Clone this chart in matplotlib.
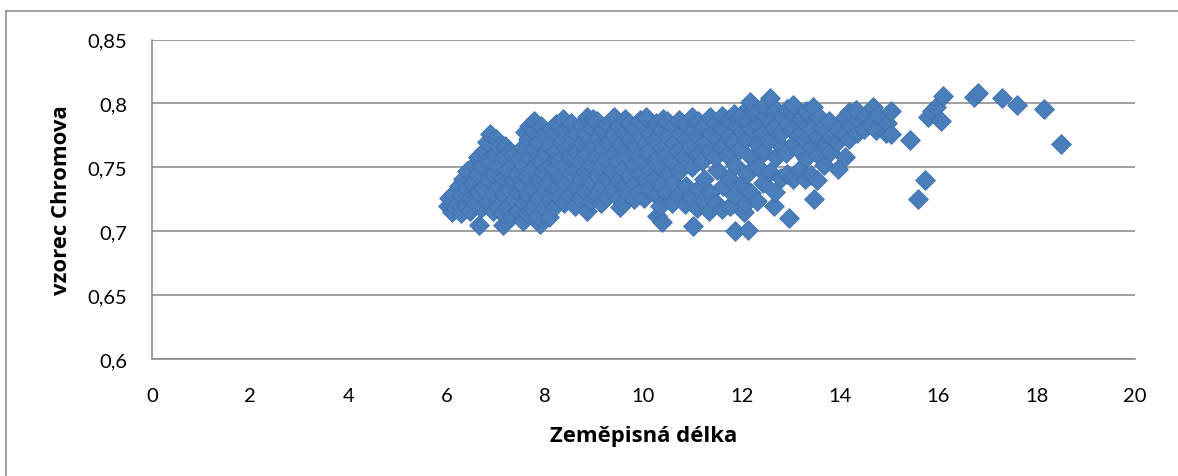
import numpy as np
import matplotlib.pyplot as plt
from matplotlib.lines import Line2D
from matplotlib.ticker import FuncFormatter

# (zemepisna delka, vzorec Chromova)
west = [
    (6.02, 0.720), (6.05, 0.726), (6.10, 0.715), (6.12, 0.729),
    (6.18, 0.718), (6.22, 0.722), (6.24, 0.735),
    (6.28, 0.714), (6.31, 0.728), (6.33, 0.741),
    (6.38, 0.720), (6.41, 0.733), (6.40, 0.747),
    (6.48, 0.716), (6.50, 0.726), (6.52, 0.738), (6.55, 0.752),
    (6.65, 0.705), (6.60, 0.722), (6.63, 0.731), (6.61, 0.745), (6.64, 0.758),
    (6.70, 0.718), (6.73, 0.734), (6.71, 0.751), (6.75, 0.763),
    (6.83, 0.723), (6.86, 0.740), (6.84, 0.756), (6.82, 0.770), (6.88, 0.776),
    (6.93, 0.716), (6.96, 0.729), (6.94, 0.745), (6.97, 0.760), (6.99, 0.772),
    (7.04, 0.720), (7.06, 0.735), (7.03, 0.750), (7.07, 0.766),
    (7.15, 0.705), (7.13, 0.714), (7.17, 0.728), (7.14, 0.742), (7.16, 0.758), (7.18, 0.767),
    (7.24, 0.719), (7.27, 0.733), (7.23, 0.748), (7.26, 0.762),
    (7.33, 0.712), (7.36, 0.725), (7.34, 0.740), (7.37, 0.754), (7.35, 0.760),
    (7.44, 0.716), (7.46, 0.730), (7.43, 0.745), (7.47, 0.757),
    (7.54, 0.708), (7.56, 0.722), (7.53, 0.736), (7.57, 0.751), (7.55, 0.766), (7.58, 0.778),
    (7.64, 0.714), (7.66, 0.728), (7.63, 0.743), (7.67, 0.758), (7.65, 0.772), (7.68, 0.782),
    (7.74, 0.718), (7.76, 0.733), (7.73, 0.749), (7.77, 0.764), (7.75, 0.779), (7.78, 0.786),
    (7.90, 0.706), (7.86, 0.712), (7.88, 0.726), (7.87, 0.740), (7.89, 0.755), (7.85, 0.770), (7.91, 0.782),
    (7.97, 0.718), (7.99, 0.732), (7.96, 0.746), (8.00, 0.761), (7.98, 0.776),
    (8.07, 0.711), (8.09, 0.724), (8.06, 0.738), (8.10, 0.752), (8.08, 0.767), (8.11, 0.780),
    (8.19, 0.720), (8.21, 0.734), (8.18, 0.749), (8.22, 0.763), (8.20, 0.776), (8.23, 0.784),
    (8.29, 0.727), (8.31, 0.742), (8.28, 0.756), (8.32, 0.770), (8.30, 0.782),
    (8.39, 0.722), (8.41, 0.736), (8.38, 0.751), (8.42, 0.765), (8.40, 0.779), (8.37, 0.788),
    (8.51, 0.728), (8.53, 0.745), (8.50, 0.759), (8.54, 0.774), (8.52, 0.785),
    (8.61, 0.720), (8.63, 0.734), (8.60, 0.748), (8.64, 0.762), (8.62, 0.777),
    (8.71, 0.726), (8.73, 0.741), (8.70, 0.755), (8.74, 0.769), (8.72, 0.783),
    (8.86, 0.716), (8.83, 0.731), (8.80, 0.746), (8.84, 0.761), (8.81, 0.776), (8.85, 0.789),
    (8.94, 0.724), (8.96, 0.738), (8.93, 0.752), (8.97, 0.767), (8.95, 0.781), (8.98, 0.788),
]

middle = [
    (9.04, 0.729), (9.06, 0.744), (9.03, 0.758), (9.07, 0.773), (9.05, 0.786),
    (9.14, 0.722), (9.16, 0.735), (9.13, 0.750), (9.17, 0.764), (9.15, 0.779),
    (9.24, 0.727), (9.26, 0.741), (9.23, 0.756), (9.27, 0.770), (9.25, 0.784),
    (9.53, 0.719), (9.39, 0.733), (9.36, 0.747), (9.40, 0.761), (9.37, 0.776), (9.41, 0.789),
    (9.49, 0.726), (9.51, 0.740), (9.48, 0.754), (9.52, 0.768), (9.50, 0.782),
    (9.59, 0.722), (9.61, 0.735), (9.58, 0.749), (9.62, 0.763), (9.60, 0.777), (9.63, 0.788),
    (9.69, 0.729), (9.71, 0.743), (9.68, 0.758), (9.72, 0.772), (9.70, 0.785),
    (9.81, 0.725), (9.83, 0.738), (9.80, 0.752), (9.84, 0.767), (9.82, 0.781),
    (9.91, 0.731), (9.93, 0.745), (9.90, 0.759), (9.94, 0.774), (9.92, 0.787),
    (10.01, 0.726), (10.03, 0.740), (10.00, 0.754), (10.04, 0.768), (10.02, 0.782), (10.05, 0.789),
    (10.11, 0.733), (10.13, 0.748), (10.10, 0.762), (10.14, 0.776),
    (10.28, 0.712), (10.26, 0.728), (10.23, 0.742), (10.27, 0.757), (10.24, 0.771), (10.25, 0.785),
    (10.38, 0.707), (10.34, 0.720), (10.36, 0.736), (10.33, 0.750), (10.37, 0.765), (10.35, 0.779), (10.39, 0.788),
    (10.47, 0.730), (10.49, 0.745), (10.46, 0.760), (10.50, 0.774), (10.48, 0.786),
    (10.59, 0.722), (10.61, 0.738), (10.58, 0.755), (10.62, 0.769), (10.60, 0.782),
    (10.71, 0.728), (10.73, 0.747), (10.70, 0.763), (10.74, 0.777), (10.72, 0.787),
    (10.84, 0.721), (10.86, 0.735), (10.83, 0.758), (10.87, 0.772), (10.85, 0.784),
    (11.00, 0.704), (10.97, 0.727), (10.99, 0.750), (10.96, 0.766), (11.01, 0.779), (10.98, 0.789),
    (11.09, 0.718), (11.11, 0.733), (11.08, 0.760), (11.12, 0.774), (11.10, 0.786),
    (11.21, 0.724), (11.23, 0.741), (11.20, 0.755), (11.24, 0.769), (11.22, 0.782),
    (11.34, 0.716), (11.36, 0.730), (11.33, 0.763), (11.37, 0.777), (11.35, 0.789),
    (11.47, 0.722), (11.49, 0.748), (11.46, 0.758), (11.50, 0.772), (11.48, 0.785),
]

east = [
    (11.59, 0.717), (11.61, 0.735), (11.58, 0.766), (11.62, 0.780), (11.60, 0.790),
    (11.77, 0.720), (11.73, 0.742), (11.70, 0.760), (11.74, 0.775), (11.72, 0.787),
    (11.87, 0.700), (11.84, 0.728), (11.86, 0.752), (11.83, 0.770), (11.88, 0.783), (11.85, 0.792),
    (12.04, 0.715), (11.99, 0.737), (11.96, 0.764), (12.00, 0.778), (11.97, 0.790),
    (12.12, 0.701), (12.09, 0.722), (12.11, 0.745), (12.08, 0.772), (12.13, 0.786), (12.14, 0.797),
    (12.19, 0.730), (12.21, 0.757), (12.18, 0.780), (12.22, 0.793), (12.17, 0.801),
    (12.31, 0.724), (12.33, 0.750), (12.30, 0.768), (12.34, 0.783), (12.32, 0.795),
    (12.44, 0.738), (12.46, 0.762), (12.43, 0.777), (12.47, 0.790), (12.45, 0.798),
    (12.65, 0.720), (12.58, 0.746), (12.55, 0.771), (12.59, 0.786), (12.57, 0.804),
    (12.67, 0.731), (12.69, 0.758), (12.66, 0.781), (12.70, 0.795),
    (12.79, 0.742), (12.81, 0.766), (12.78, 0.776), (12.82, 0.790),
    (12.97, 0.710), (12.93, 0.745), (12.90, 0.761), (12.94, 0.784), (12.91, 0.796),
    (13.04, 0.741), (13.06, 0.769), (13.03, 0.779), (13.07, 0.792), (13.05, 0.799),
    (13.17, 0.748), (13.19, 0.763), (13.16, 0.775), (13.20, 0.788),
    (13.29, 0.741), (13.31, 0.757), (13.28, 0.771), (13.32, 0.783), (13.30, 0.794),
    (13.46, 0.725), (13.41, 0.744), (13.43, 0.766), (13.40, 0.780), (13.44, 0.797),
    (13.54, 0.740), (13.56, 0.760), (13.53, 0.774), (13.57, 0.789),
    (13.67, 0.752), (13.69, 0.768), (13.66, 0.781),
    (13.79, 0.762), (13.81, 0.774), (13.78, 0.786),
    (13.95, 0.749), (13.93, 0.770), (13.96, 0.779),
    (14.10, 0.758), (14.07, 0.776), (14.09, 0.789),
    (14.19, 0.772), (14.21, 0.783), (14.18, 0.793),
    (14.34, 0.777), (14.36, 0.787), (14.33, 0.795),
    (14.49, 0.780), (14.51, 0.790),
    (14.61, 0.784), (14.66, 0.797),
    (14.74, 0.779), (14.76, 0.791),
    (14.94, 0.777), (14.96, 0.785), (15.03, 0.794),
    (15.03, 0.776),
]

far_east = [
    (15.42, 0.771), (15.58, 0.725), (15.72, 0.740), (15.78, 0.789),
    (15.88, 0.794), (15.95, 0.797), (16.05, 0.786), (16.10, 0.806),
    (16.72, 0.805), (16.80, 0.808), (17.30, 0.804), (17.60, 0.799),
    (18.15, 0.796), (18.50, 0.768),
]

pts = np.array(west + middle + east + far_east)
lon = pts[:, 0]
chrom = pts[:, 1]

fig = plt.figure(figsize=(11.78, 4.77), dpi=100)
# chart frame: only top and left edges show in the crop
fig.add_artist(Line2D([0.0055, 1.0], [0.9755, 0.9755], transform=fig.transFigure,
                      color='#868686', linewidth=1.1))
fig.add_artist(Line2D([0.0055, 0.0055], [0.0, 0.9755], transform=fig.transFigure,
                      color='#868686', linewidth=1.1))

ax = fig.add_axes([0.129, 0.2453, 0.8345, 0.6697])
ax.scatter(lon, chrom, marker='D', s=100, facecolor='#4A7EBB', edgecolor='#4273AF',
           linewidth=0.7, zorder=3)

ax.set_xlim(0, 20)
ax.set_ylim(0.6, 0.85)
ax.set_xticks(np.arange(0, 21, 2))
ax.set_yticks([0.6, 0.65, 0.7, 0.75, 0.8, 0.85])
ax.yaxis.set_major_formatter(FuncFormatter(lambda v, p: ('%g' % round(v, 2)).replace('.', ',')))

ax.grid(axis='y', color='#868686', linewidth=1.1)
ax.set_axisbelow(True)
for side in ['top', 'right']:
    ax.spines[side].set_visible(False)
for side in ['left', 'bottom']:
    ax.spines[side].set_color('#868686')
    ax.spines[side].set_linewidth(1.1)

ax.tick_params(axis='both', length=0, labelsize=14.5)
ax.tick_params(axis='y', pad=18)
ax.tick_params(axis='x', pad=20)
for lbl in ax.get_xticklabels() + ax.get_yticklabels():
    lbl.set_family('Lato')

ax.set_xlabel('Zeměpisná délka', fontsize=15.9, fontweight='bold', family='Open Sans')
ax.set_ylabel('vzorec Chromova', fontsize=15.9, fontweight='bold', family='Open Sans')
ax.xaxis.set_label_coords(0.5, -0.241)
ax.yaxis.set_label_coords(-0.0916, 0.5)
ax.xaxis.label.set_va('center')
ax.yaxis.label.set_va('center')

fig.savefig('out.png', dpi=100)
